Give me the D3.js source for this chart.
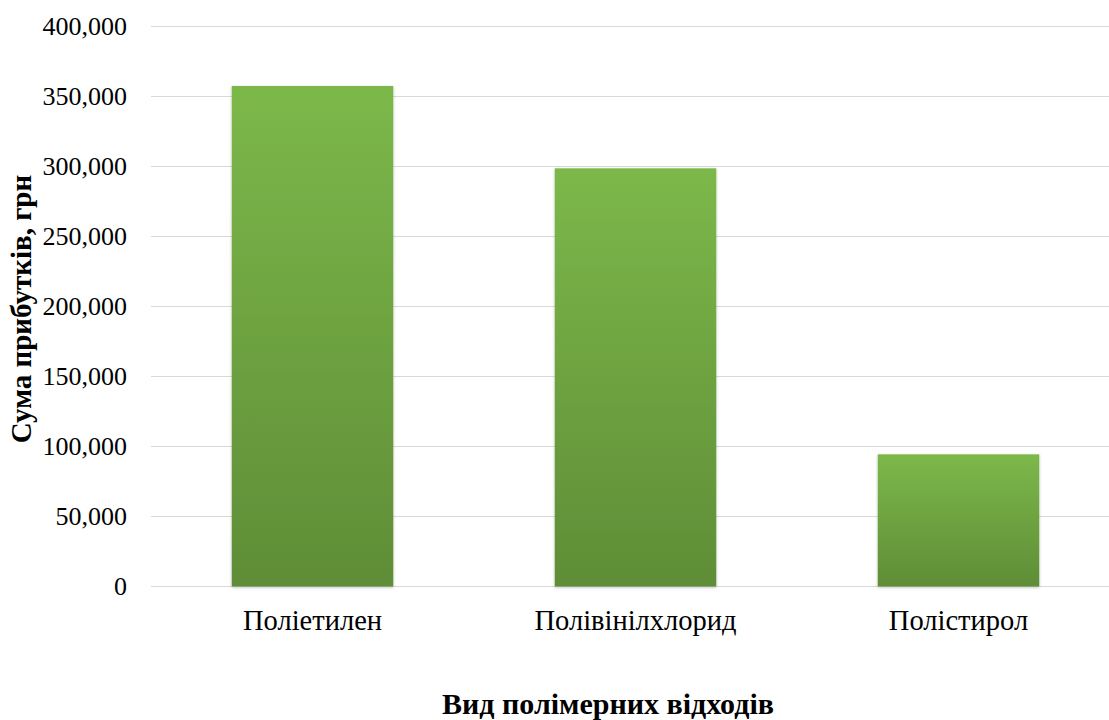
<!doctype html>
<html lang="uk">
<head>
    <meta charset="utf-8">
    <title>Сума прибутків</title>
    <script src="https://d3js.org/d3.v7.min.js"></script>
    <style>
        body { margin: 0; background: #fff; }
        text { font-family: "Liberation Serif", "Times New Roman", serif; fill: #000; }
    </style>
</head>
<body>
<svg id="chart" width="1109" height="720"></svg>
<script>
    const categories = ['Поліетилен', 'Полівінілхлорид', 'Полістирол']
    const values = [357500, 298700, 94400]
    const yTicks = [0, 50000, 100000, 150000, 200000, 250000, 300000, 350000, 400000]

    const svg = d3.select('#chart')
    const plotLeft = 151, plotRight = 1120, plotTop = 26.5, plotBottom = 586.5

    const x = d3.scaleBand().domain(categories).range([plotLeft, plotRight]).paddingInner(0.5).paddingOuter(0.25)
    const y = d3.scaleLinear().domain([0, 400000]).range([plotBottom, plotTop])

    const defs = svg.append('defs')
    const grad = defs.append('linearGradient').attr('id', 'barFill')
        .attr('x1', 0).attr('y1', 0).attr('x2', 0).attr('y2', 1)
    grad.append('stop').attr('offset', '0%').attr('stop-color', '#7cb84a')
    grad.append('stop').attr('offset', '100%').attr('stop-color', '#5f8d37')

    const shadow = defs.append('filter').attr('id', 'shadow')
        .attr('x', '-10%').attr('y', '-10%').attr('width', '120%').attr('height', '120%')
    shadow.append('feDropShadow').attr('dx', 0).attr('dy', 1).attr('stdDeviation', 1.5)
        .attr('flood-color', '#000').attr('flood-opacity', 0.25)

    // gridlines
    svg.append('g')
        .selectAll('line')
        .data(yTicks)
        .join('line')
        .attr('x1', plotLeft).attr('x2', plotRight)
        .attr('y1', d => y(d)).attr('y2', d => y(d))
        .attr('stroke', '#d9d9d9').attr('stroke-width', 1.2)

    const fmt = d3.format(',')
    const yAxis = svg.append('g')
        .attr('transform', `translate(${plotLeft - 24},0)`)
        .call(d3.axisLeft(y).tickValues(yTicks).tickFormat(fmt).tickSize(0).tickPadding(0))
    yAxis.select('.domain').remove()
    yAxis.selectAll('text').attr('font-size', 26).attr('font-family', '"Liberation Serif", serif').attr('fill', '#000')

    svg.append('g')
        .selectAll('rect')
        .data(values)
        .join('rect')
        .attr('x', (d, i) => x(categories[i]))
        .attr('width', x.bandwidth())
        .attr('y', d => y(d))
        .attr('height', d => y(0) - y(d))
        .attr('fill', 'url(#barFill)')
        .attr('filter', 'url(#shadow)')

    const xAxis = svg.append('g')
        .attr('transform', `translate(0,${plotBottom})`)
        .call(d3.axisBottom(x).tickSize(0).tickPadding(0))
    xAxis.select('.domain').remove()
    xAxis.selectAll('text').attr('font-size', 28.5).attr('font-family', '"Liberation Serif", serif').attr('fill', '#000')
        .attr('y', 43).attr('dy', 0)

    svg.append('text')
        .attr('x', 608).attr('y', 714)
        .attr('text-anchor', 'middle')
        .attr('font-size', 30).attr('font-weight', 'bold')
        .text('Вид полімерних відходів')

    svg.append('text')
        .attr('transform', 'translate(31,309) rotate(-90)')
        .attr('text-anchor', 'middle')
        .attr('font-size', 29).attr('font-weight', 'bold')
        .text('Сума прибутків, грн')
</script>
</body>
</html>
